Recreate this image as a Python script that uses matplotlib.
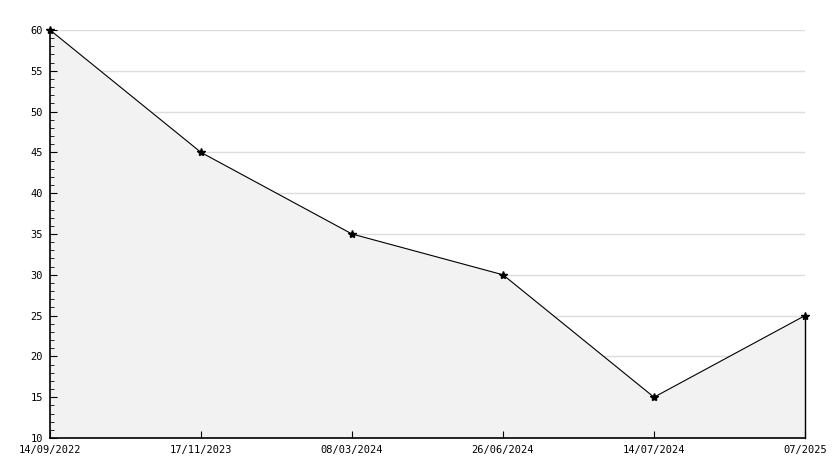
import matplotlib
matplotlib.use("Agg")
import matplotlib.pyplot as plt
from matplotlib.ticker import MultipleLocator

dates = ["14/09/2022", "17/11/2023", "08/03/2024", "26/06/2024", "14/07/2024", "07/2025"]
values = [60, 45, 35, 30, 15, 25]

plt.rcParams['font.family'] = ['DejaVu Sans Mono']

fig = plt.figure(figsize=(8.34, 4.68), dpi=100)
ax = fig.add_axes([50 / 834, 30 / 468, 755 / 834, 408 / 468])

x = list(range(len(dates)))

ax.set_xlim(0, len(dates) - 1)
ax.set_ylim(10, 60)
ax.set_xticks(x)
ax.set_xticklabels(dates)
ax.yaxis.set_major_locator(MultipleLocator(5))
ax.yaxis.set_minor_locator(MultipleLocator(1))

# horizontal grid, kept beneath the filled area
for yv in ax.get_yticks():
    ax.axhline(yv, color="#dddddd", lw=1, zorder=0.5)

ax.fill_between(x, values, 10, color="#f2f2f2", zorder=1)
ax.plot([x[-1], x[-1]], [10, values[-1]], color="black", lw=1, zorder=3, clip_on=False)
ax.plot(x, values, color="black", lw=0.8, marker="*", markersize=6,
        zorder=4, clip_on=False)

for s in ["top", "right"]:
    ax.spines[s].set_visible(False)
for s in ["left", "bottom"]:
    ax.spines[s].set_linewidth(1.2)

ax.tick_params(axis="x", direction="in", length=5, pad=5, labelsize=7.5)
ax.tick_params(axis="y", which="major", direction="in", length=5, pad=5, labelsize=7.5)
ax.tick_params(axis="y", which="minor", direction="in", length=3)

fig.savefig("out.png", dpi=100)
